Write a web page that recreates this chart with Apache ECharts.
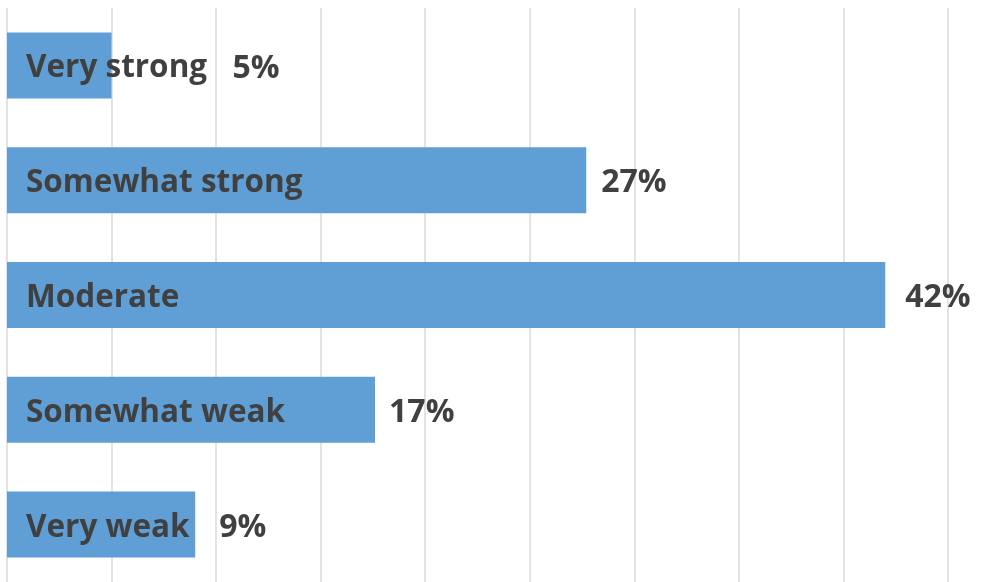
<!DOCTYPE html>
<html>
<head>
<meta charset="utf-8">
<script src="https://cdn.jsdelivr.net/npm/echarts@6/dist/echarts.min.js"></script>
<style>
  html, body { margin: 0; padding: 0; background: #fff; }
  #chart { width: 991px; height: 582px; }
</style>
</head>
<body>
<div id="chart"></div>
<script>
// 数据（条长按图读出，标签文字照原图）
const categories = ['Very strong', 'Somewhat strong', 'Moderate', 'Somewhat weak', 'Very weak'];
const values = [5, 27.7, 42, 17.6, 9];
const valueLabels = ['5%', '27%', '42%', '17%', '9%'];

const textColor = '#404040';
const fontFamily = '"Open Sans", "Noto Sans", sans-serif';

// 值标签离条末端的距离（第一个要跳过类别名）
const labelGaps = [121, 15, 20, 14, 24];

const chart = echarts.init(document.getElementById('chart'));

const valueData = values.map((v, i) => ({
  value: v,
  label: { distance: labelGaps[i] },
}));

chart.setOption({
  animation: false,
  grid: { left: 7, right: 43, top: 8, bottom: 0 },
  xAxis: {
    type: 'value',
    min: 0,
    max: 45,
    interval: 5,
    axisLabel: { show: false },
    axisLine: { show: false },
    axisTick: { show: false },
    splitLine: { lineStyle: { color: '#e3e3e3', width: 2 } },
  },
  yAxis: {
    type: 'category',
    data: categories,
    inverse: true,
    axisLabel: { show: false },
    axisLine: { show: false },
    axisTick: { show: false },
  },
  series: [
    {
      type: 'bar',
      data: values,
      barWidth: 66,
      itemStyle: { color: '#5f9fd6' },
      label: {
        show: true,
        position: 'insideLeft',
        distance: 19,
        offset: [0, 3],
        formatter: (p) => p.name,
        color: textColor,
        fontFamily,
        fontWeight: 'bold',
        fontSize: 31.5,
      },
    },
    {
      type: 'bar',
      data: valueData,
      barWidth: 66,
      barGap: '-100%',
      silent: true,
      itemStyle: { color: 'rgba(0,0,0,0)' },
      label: {
        show: true,
        position: 'right',
        offset: [0, 3],
        formatter: (p) => valueLabels[p.dataIndex],
        color: textColor,
        fontFamily,
        fontWeight: 'bold',
        fontSize: 32,
      },
    },
  ],
});
</script>
</body>
</html>
